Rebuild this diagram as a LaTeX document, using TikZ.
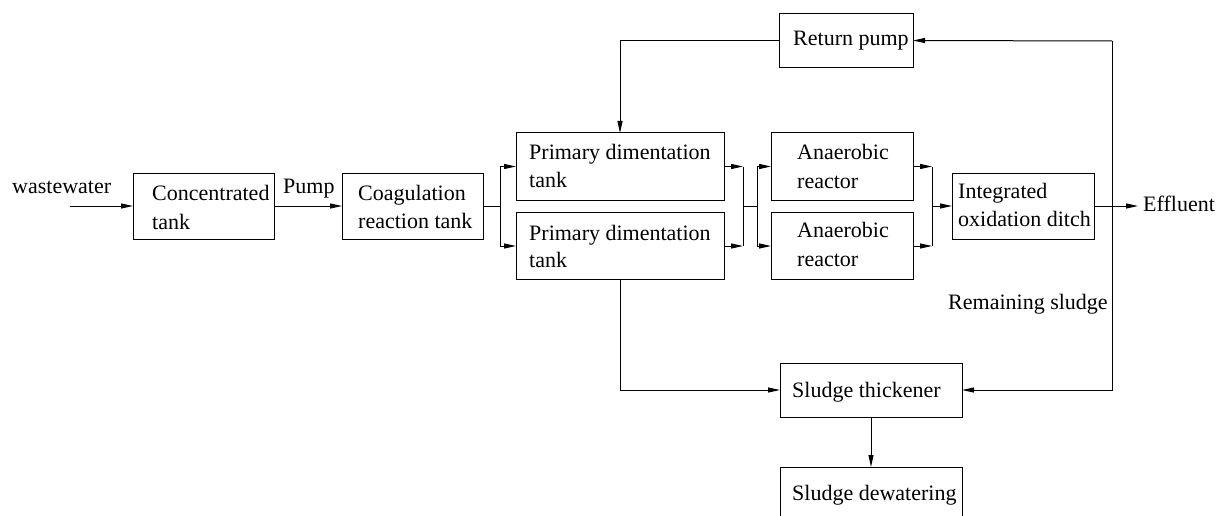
\documentclass[tikz,border=0pt]{standalone}
\usepackage{fontspec}
\setmainfont{LiberationSerif}[Extension=.ttf,UprightFont=*-Regular]
\usetikzlibrary{arrows.meta}
\begin{document}
\begin{tikzpicture}[x=1pt,y=-1pt,
  box/.style={draw,line width=1pt,rectangle,inner sep=0pt,outer sep=0pt},
  lbl/.style={inner sep=0pt,anchor=base west,font=\fontsize{22}{27}\selectfont},
  conn/.style={line width=1pt},
  arr/.style={line width=1pt,-{Triangle[length=12pt,width=5pt]}}]
\clip (0,0) rectangle (1223,516);
\fill[white] (0,0) rectangle (1223,516);
% boxes
\node[box,minimum width=141pt,minimum height=66pt] (ct) at (203.5,206) {};
\node[box,minimum width=141pt,minimum height=66pt] (cg) at (412.5,206) {};
\node[box,minimum width=208pt,minimum height=67pt] (p1) at (620,166.5) {};
\node[box,minimum width=208pt,minimum height=67pt] (p2) at (620,246) {};
\node[box,minimum width=142pt,minimum height=67pt] (a1) at (842,166.5) {};
\node[box,minimum width=142pt,minimum height=67pt] (a2) at (842,246) {};
\node[box,minimum width=142pt,minimum height=66pt] (io) at (1023,206) {};
\node[box,minimum width=134pt,minimum height=54pt] (rp) at (846,40.5) {};
\node[box,minimum width=182pt,minimum height=54pt] (st) at (871,390) {};
\node[box,minimum width=182pt,minimum height=66pt] (sd) at (871,500) {};
% texts
\node[lbl] (t-ww) at (12,193) {wastewater};
\node[lbl] (t-pump) at (283,193) {Pump};
\node[lbl] (t-ct1) at (152,200) {Concentrated};
\node[lbl] (t-ct2) at (152,229) {tank};
\node[lbl] (t-cg1) at (358,200) {Coagulation};
\node[lbl] (t-cg2) at (358,228) {reaction tank};
\node[lbl] (t-p11) at (529,160) {Primary dimentation};
\node[lbl] (t-p12) at (529,187) {tank};
\node[lbl] (t-p21) at (529,240) {Primary dimentation};
\node[lbl] (t-p22) at (529,267) {tank};
\node[lbl] (t-a11) at (797,160) {Anaerobic};
\node[lbl] (t-a12) at (797,188) {reactor};
\node[lbl] (t-a21) at (797,237) {Anaerobic};
\node[lbl] (t-a22) at (797,266) {reactor};
\node[lbl] (t-io1) at (958,198) {Integrated};
\node[lbl] (t-io2) at (958,226) {oxidation ditch};
\node[lbl] (t-eff) at (1143,211) {Effluent};
\node[lbl] (t-rp) at (793,46) {Return pump};
\node[lbl] (t-rs) at (948,309) {Remaining sludge};
\node[lbl] (t-st) at (792,397) {Sludge thickener};
\node[lbl] (t-sd) at (792,500) {Sludge dewatering};
% coordinates
\coordinate (w0) at (70,206);
\coordinate (s1) at (500,206);
\coordinate (m1) at (743,206);
\coordinate (m2) at (757,206);
\coordinate (m3) at (932,206);
\coordinate (e1) at (1138,206);
\coordinate (r1) at (1112,41);
% connectors
\draw[arr] (w0) -- (ct.west);
\draw[arr] (ct.east) -- (cg.west);
\draw[conn] (cg.east) -- (s1);
\draw[conn] (s1 |- p1.west) -- (s1 |- p2.west);
\draw[arr] (s1 |- p1.west) -- (p1.west);
\draw[arr] (s1 |- p2.west) -- (p2.west);
\draw[arr] (p1.east) -- (m1 |- p1.east);
\draw[arr] (p2.east) -- (m1 |- p2.east);
\draw[conn] (m1 |- p1.east) -- (m1 |- p2.east);
\draw[conn] (m1) -- (m2);
\draw[conn] (m2 |- a1.west) -- (m2 |- a2.west);
\draw[arr] (m2 |- a1.west) -- (a1.west);
\draw[arr] (m2 |- a2.west) -- (a2.west);
\draw[arr] (a1.east) -- (m3 |- a1.east);
\draw[arr] (a2.east) -- (m3 |- a2.east);
\draw[conn] (m3 |- a1.east) -- (m3 |- a2.east);
\draw[arr] (m3) -- (io.west);
\draw[arr] (io.east) -- (e1);
\draw[arr] (r1) -- (rp.east);
\draw[arr] (r1) |- (st.east);
\draw[arr] (rp.west) -| (p1.north);
\draw[arr] (p2.south) |- (st.west);
\draw[arr] (st.south) -- (sd.north);
\end{tikzpicture}
\end{document}
